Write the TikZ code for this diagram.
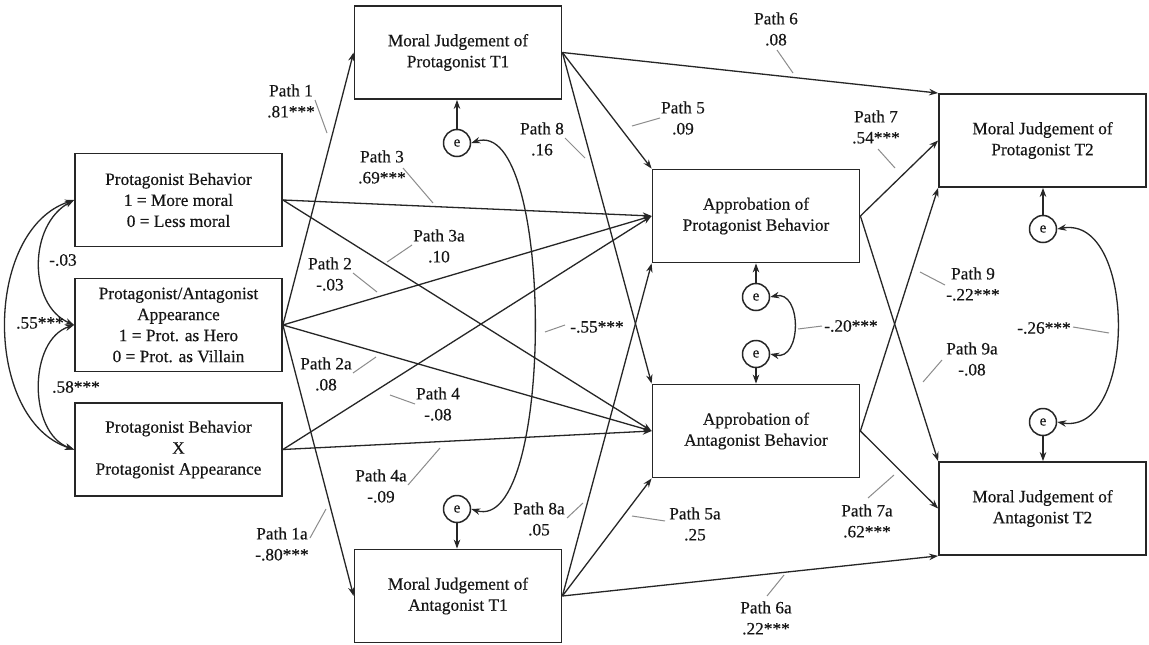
\documentclass[tikz,border=0pt]{standalone}
\usepackage{fontspec}
\setmainfont{Liberation Serif}[FakeBold=0.35]
\usetikzlibrary{arrows.meta}
\definecolor{ink}{HTML}{161616}
\definecolor{wire}{HTML}{262626}
\definecolor{guide}{HTML}{8C8C8C}
% short grey leader from a coefficient to its path
\newcommand\leadline[3]{%
  \coordinate (#1-a) at (#2);
  \coordinate (#1-b) at (#3);
  \draw[guide line] (#1-a) -- (#1-b);}
\begin{document}
\begin{tikzpicture}[x=1pt,y=-1pt,
  varbox/.style={draw=wire, line width=1.8pt, minimum width=207pt, minimum height=93pt,
    inner sep=2pt, align=center, text=ink, font=\fontsize{17.3}{21}\selectfont},
  errc/.style={circle, draw=wire, line width=1.5pt, minimum size=27pt, inner sep=0pt,
    text=ink, font=\fontsize{15}{15}\selectfont},
  conn/.style={draw=wire, line width=1.3pt, -{Stealth[length=9pt,width=6.5pt]}},
  cov/.style={draw=wire, line width=1.3pt,
    {Stealth[length=9pt,width=6.5pt]}-{Stealth[length=9pt,width=6.5pt]}},
  coef/.style={align=center, text=ink, inner sep=0pt, font=\fontsize{17.3}{21}\selectfont},
  guide line/.style={draw=guide, line width=1pt},
]
\useasboundingbox (0,0) rectangle (1149,645);
\fill[white] (0,0) rectangle (1149,645);

% exogenous variables
\node[varbox] (PB) at (178.5,200) {Protagonist Behavior\\1 = More moral\\0 = Less moral};
\node[varbox] (PA) at (178.5,325) {Protagonist/Antagonist\\Appearance\\1 = Prot. as Hero\\0 = Prot. as Villain};
\node[varbox] (PX) at (178.5,449.5) {Protagonist Behavior\\X\\Protagonist Appearance};

% mediators and outcomes
\node[varbox] (MJP1) at (458,52.5) {Moral Judgement of\\Protagonist T1};
\node[varbox] (MJA1) at (458,596) {Moral Judgement of\\Antagonist T1};
\node[varbox] (APB) at (756,216) {Approbation of\\Protagonist Behavior};
\node[varbox] (AAB) at (756,431) {Approbation of\\Antagonist Behavior};
\node[varbox] (MJP2) at (1042.5,140.5) {Moral Judgement of\\Protagonist T2};
\node[varbox] (MJA2) at (1042.5,508.5) {Moral Judgement of\\Antagonist T2};

% error terms
\node[errc] (e1) at (457,143) {e};
\node[errc] (e2) at (457,509) {e};
\node[errc] (e3) at (756,297) {e};
\node[errc] (e4) at (756,354) {e};
\node[errc] (e5) at (1043,229) {e};
\node[errc] (e6) at (1043,422) {e};

\draw[conn] (e1) -- (e1 |- MJP1.south);
\draw[conn] (e2) -- (e2 |- MJA1.north);
\draw[conn] (e3) -- (e3 |- APB.south);
\draw[conn] (e4) -- (e4 |- AAB.north);
\draw[conn] (e5) -- (e5 |- MJP2.south);
\draw[conn] (e6) -- (e6 |- MJA2.north);

% correlated residuals
\draw[cov] (e1.east) .. controls (555,115) and (555,535) .. (e2.east);
\draw[cov] (e3.east) .. controls (802,290) and (802,361) .. (e4.east);
\draw[cov] (e5.east) .. controls (1137,215) and (1137,436) .. (e6.east);

% correlations among predictors
\draw[cov] (PB.west) .. controls (28,225) and (28,305) .. (PA.west);
\draw[cov] (PB.west) .. controls (-17,230) and (-17,420) .. (PX.west);
\draw[cov] (PA.west) .. controls (28,340) and (28,433) .. (PX.west);

% structural paths
\draw[conn] (PA.east) -- (MJP1.west);
\draw[conn] (PA.east) -- (MJA1.west);
\draw[conn] (PA.east) -- (APB.west);
\draw[conn] (PA.east) -- (AAB.west);
\draw[conn] (PB.east) -- (APB.west);
\draw[conn] (PB.east) -- (AAB.west);
\draw[conn] (PX.east) -- (AAB.west);
\draw[conn] (PX.east) -- (APB.west);
\draw[conn] (MJP1.east) -- (APB.north west);
\draw[conn] (MJP1.east) -- (MJP2.north west);
\draw[conn] (MJP1.east) -- (AAB.north west);
\draw[conn] (MJA1.east) -- (AAB.south west);
\draw[conn] (MJA1.east) -- (APB.south west);
\draw[conn] (MJA1.east) -- (MJA2.south west);
\draw[conn] (APB.east) -- (MJP2.west);
\draw[conn] (APB.east) -- (MJA2.north west);
\draw[conn] (AAB.east) -- (MJP2.south west);
\draw[conn] (AAB.east) -- (MJA2.west);

% coefficients
\node[coef] (c1) at (291,101) {Path 1\\.81***};
\node[coef] (c1a) at (282,544) {Path 1a\\-.80***};
\node[coef] (c2) at (330,274) {Path 2\\-.03};
\node[coef] (c2a) at (326,374) {Path 2a\\.08};
\node[coef] (c3) at (382,167) {Path 3\\.69***};
\node[coef] (c3a) at (439,246) {Path 3a\\.10};
\node[coef] (c4) at (438,404) {Path 4\\-.08};
\node[coef] (c4a) at (381,486) {Path 4a\\-.09};
\node[coef] (c5) at (683,118) {Path 5\\.09};
\node[coef] (c5a) at (695,524) {Path 5a\\.25};
\node[coef] (c6) at (776,29) {Path 6\\.08};
\node[coef] (c6a) at (766,618) {Path 6a\\.22***};
\node[coef] (c7) at (876,127) {Path 7\\.54***};
\node[coef] (c7a) at (867,521) {Path 7a\\.62***};
\node[coef] (c8) at (542,139) {Path 8\\.16};
\node[coef] (c8a) at (539,519) {Path 8a\\.05};
\node[coef] (c9) at (973,284) {Path 9\\-.22***};
\node[coef] (c9a) at (972,359) {Path 9a\\-.08};
\node[coef] (r1) at (597,327) {-.55***};
\node[coef] (r2) at (851,326) {-.20***};
\node[coef] (r3) at (1044,328) {-.26***};
\node[coef] (k1) at (63,260) {-.03};
\node[coef] (k2) at (40,323) {.55***};
\node[coef] (k3) at (76,387) {.58***};

% leaders
\leadline{g1}{315,100}{327,133}
\leadline{g1a}{310,538}{326,509}
\leadline{g2}{353,273}{377,292}
\leadline{g2a}{353,373}{376,357}
\leadline{g3}{403,168}{433,203}
\leadline{g3a}{387,262}{412,245}
\leadline{g4}{390,395}{415,404}
\leadline{g4a}{408,485}{440,448}
\leadline{g5}{632,126}{660,118}
\leadline{g5a}{632,516}{665,521}
\leadline{g6}{777,50}{793,73}
\leadline{g6a}{767,596}{784,575}
\leadline{g7}{878,149}{895,168}
\leadline{g7a}{868,498}{894,475}
\leadline{g8}{565,138}{585,158}
\leadline{g8a}{567,518}{583,503}
\leadline{g9}{920,272}{945,285}
\leadline{g9a}{923,382}{942,360}
\leadline{gr1}{545,332}{565,325}
\leadline{gr2}{798,329}{822,326}
\leadline{gr3}{1073,327}{1109,333}
\end{tikzpicture}
\end{document}
